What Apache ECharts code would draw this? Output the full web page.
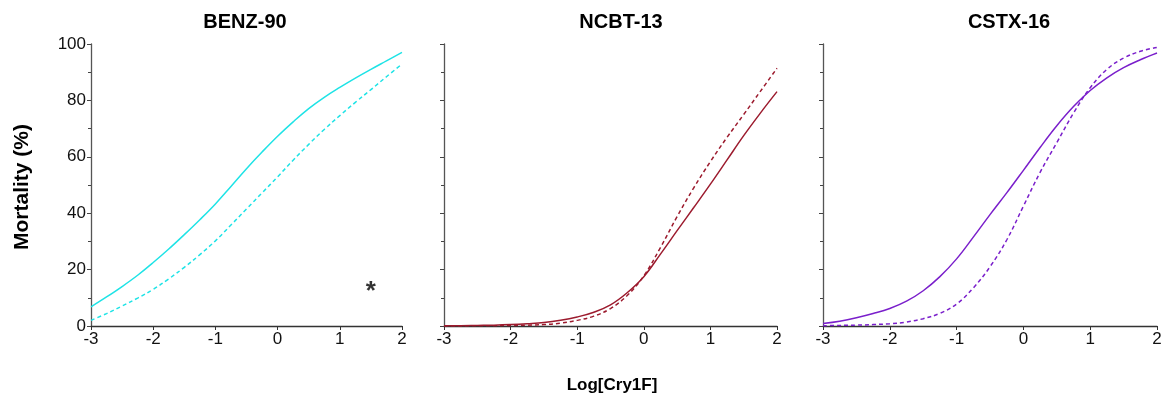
<!DOCTYPE html>
<html>
<head>
<meta charset="utf-8">
<title>Mortality vs Log[Cry1F]</title>
<script src="https://cdn.jsdelivr.net/npm/echarts@6/dist/echarts.min.js"></script>
<style>
  html, body { margin: 0; padding: 0; background: #fff; }
  #chart { width: 1169px; height: 400px; }
</style>
</head>
<body>
<div id="chart"></div>
<script>
// x positions (log dose), shared by all panels
const logDose = [-3, -2.75, -2.5, -2.25, -2, -1.75, -1.5, -1.25, -1, -0.75, -0.5,
  -0.25, 0, 0.25, 0.5, 0.75, 1, 1.25, 1.5, 1.75, 2];

const panelTitles = ['BENZ-90', 'NCBT-13', 'CSTX-16'];
const xTicks = [-3, -2, -1, 0, 1, 2];
const yTicks = [0, 20, 40, 60, 80, 100];

// BENZ-90
const benzSolid = [6.8, 10.3, 14.0, 18.0, 22.5, 27.3, 32.4, 37.7, 43.3, 49.5, 55.8,
  61.7, 67.3, 72.4, 77.1, 81.1, 84.6, 87.9, 91.0, 94.0, 97.0];
const benzDashed = [2.0, 4.4, 7.1, 9.9, 13.0, 16.7, 20.8, 25.3, 30.2, 35.8, 41.5,
  47.2, 52.9, 58.8, 64.4, 69.7, 74.6, 79.3, 83.8, 88.4, 92.9];

// NCBT-13
const ncbtSolid = [0.1, 0.1, 0.2, 0.3, 0.5, 0.8, 1.2, 2.0, 3.2, 4.9, 7.5,
  11.8, 17.5, 25.5, 33.8, 42.0, 50.3, 58.9, 67.5, 75.5, 83.1];
const ncbtDashed = [0, 0, 0.1, 0.1, 0.2, 0.3, 0.5, 1.0, 2.0, 3.5, 6.2,
  10.8, 17.8, 27.8, 38.8, 49.0, 58.3, 66.9, 75.0, 83.2, 91.4];

// CSTX-16
const cstxSolid = [0.9, 1.7, 2.9, 4.4, 6.2, 8.8, 12.5, 17.5, 23.8, 31.5, 39.5,
  47.2, 55.2, 63.3, 71.0, 77.8, 83.5, 88.0, 91.6, 94.4, 96.8];
const cstxDashed = [0.1, 0.2, 0.3, 0.5, 0.8, 1.4, 2.6, 4.5, 7.8, 13.5, 21.0,
  30.5, 42.5, 54.5, 65.0, 75.5, 84.5, 91.0, 95.0, 97.4, 98.8];

// significance marker in the first panel
const starPoint = [1.5, 12];

const colors = ['#1ee3e6', '#9c1b2e', '#7a1fcb'];
const solidSets = [benzSolid, ncbtSolid, cstxSolid];
const dashedSets = [benzDashed, ncbtDashed, cstxDashed];

const grids = [
  { left: 91, width: 311, top: 44, height: 282 },
  { left: 444, width: 333, top: 44, height: 282 },
  { left: 823, width: 334, top: 44, height: 282 }
];
const titleCenters = [240, 616, 1004];

const font = 'Liberation Sans, Arial';
const pairs = ys => logDose.map((x, i) => [x, ys[i]]);

const chart = echarts.init(document.getElementById('chart'));

const xAxes = grids.map((g, i) => ({
  type: 'value',
  gridIndex: i,
  min: xTicks[0],
  max: xTicks[xTicks.length - 1],
  interval: 1,
  axisLine: { show: true, onZero: false, lineStyle: { color: '#333', width: 1.3 } },
  axisTick: { show: true, length: 4, lineStyle: { color: '#333' } },
  axisLabel: { color: '#111', fontFamily: font, fontSize: 17, margin: 5 },
  splitLine: { show: false }
}));

const yAxes = grids.map((g, i) => ({
  type: 'value',
  gridIndex: i,
  min: yTicks[0],
  max: yTicks[yTicks.length - 1],
  interval: 20,
  axisLine: { show: true, onZero: false, lineStyle: { color: '#555', width: 1.3 } },
  axisTick: { show: true, length: 4, lineStyle: { color: '#444' } },
  minorTick: { show: true, splitNumber: 2, length: 3, lineStyle: { color: '#444' } },
  axisLabel: { show: i === 0, color: '#111', fontFamily: font, fontSize: 17, margin: 5 },
  splitLine: { show: false }
}));

const series = [];
grids.forEach((g, i) => {
  series.push({
    type: 'line', xAxisIndex: i, yAxisIndex: i,
    data: pairs(solidSets[i]), smooth: 0.4, showSymbol: false,
    lineStyle: { color: colors[i], width: 1.5 }
  });
  series.push({
    type: 'line', xAxisIndex: i, yAxisIndex: i,
    data: pairs(dashedSets[i]), smooth: 0.4, showSymbol: false,
    lineStyle: { color: colors[i], width: 1.5, type: [4, 3] }
  });
});
series.push({
  type: 'scatter', xAxisIndex: 0, yAxisIndex: 0,
  data: [starPoint], symbolSize: 0, silent: true,
  label: {
    show: true, position: 'inside', formatter: '*',
    color: '#000', fontSize: 26, fontWeight: 'bold', fontFamily: font
  }
});

chart.setOption({
  animation: false,
  backgroundColor: '#fff',
  title: panelTitles.map((t, i) => ({
    text: t,
    left: titleCenters[i],
    top: 7,
    textAlign: 'center',
    textStyle: { fontSize: 20, fontWeight: 'bold', color: '#000', fontFamily: font }
  })),
  grid: grids,
  xAxis: xAxes,
  yAxis: yAxes,
  series: series,
  graphic: [
    {
      type: 'text',
      x: 22, y: 187,
      rotation: Math.PI / 2,
      style: {
        text: 'Mortality (%)', fill: '#000',
        font: 'bold 21px "Liberation Sans", Arial',
        textAlign: 'center', textVerticalAlign: 'middle'
      }
    },
    {
      type: 'text',
      x: 612, y: 385,
      style: {
        text: 'Log[Cry1F]', fill: '#000',
        font: 'bold 17px "Liberation Sans", Arial',
        textAlign: 'center', textVerticalAlign: 'middle'
      }
    }
  ]
});
</script>
</body>
</html>
